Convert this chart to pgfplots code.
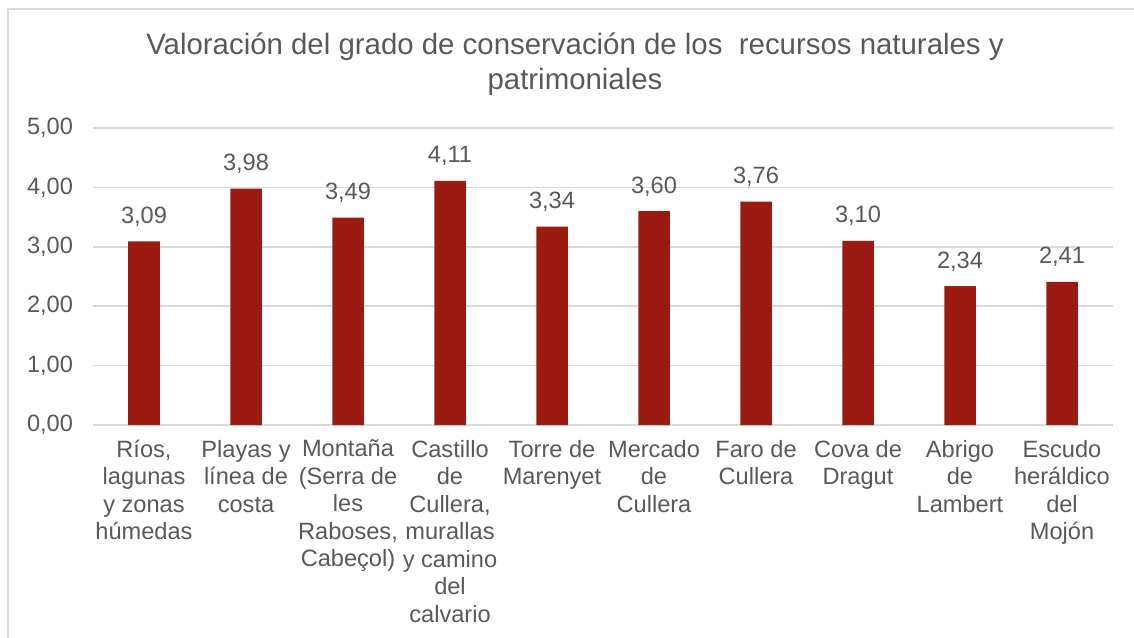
\documentclass[border=0pt]{standalone}
\usepackage{fontspec}
\setmainfont{Liberation Sans}
\usepackage{pgfplots}
\pgfplotsset{compat=1.18}

\definecolor{barred}{HTML}{9B1B12}
\definecolor{txtgrey}{HTML}{595959}
\definecolor{gridgrey}{HTML}{D9D9D9}

\begin{document}
\begin{tikzpicture}
    \useasboundingbox (-46.5pt,-106pt) rectangle (520.5pt,212.5pt);
    % chart frame (cut at right and bottom)
    \draw[gridgrey, line width=0.75pt] (-42.5pt,-110pt) -- (-42.5pt,208pt) -- (530pt,208pt);

    \begin{axis}[
        at={(0,0)}, anchor=south west,
        scale only axis,
        width=510pt,
        height=148.5pt,
        ybar,
        bar width=15.75pt,
        xmin=-0.5, xmax=9.5,
        ymin=0, ymax=5,
        ytick={0,1,2,3,4,5},
        xtick=data,
        xticklabels={
            {Ríos,\\lagunas\\y zonas\\húmedas},
            {Playas y\\línea de\\costa},
            {Montaña\\(Serra de\\les\\Raboses,\\Cabeçol)},
            {Castillo\\de\\Cullera,\\murallas\\y camino\\del\\calvario},
            {Torre de\\Marenyet},
            {Mercado\\de\\Cullera},
            {Faro de\\Cullera},
            {Cova de\\Dragut},
            {Abrigo\\de\\Lambert},
            {Escudo\\heráldico\\del\\Mojón}
        },
        axis line style={draw=none},
        tick style={draw=none},
        ymajorgrids,
        major grid style={gridgrey, line width=0.75pt},
        /pgf/number format/assume math mode=true,
        yticklabel style={
            font=\fontsize{11.8}{13.75}\selectfont, color=txtgrey,
            xshift=-6.5pt,
            /pgf/number format/.cd, fixed, fixed zerofill, precision=2, use comma
        },
        xticklabel style={
            font=\fontsize{11.8}{13.75}\selectfont, color=txtgrey,
            align=center, anchor=north, inner sep=0pt, yshift=-3pt,
            execute at begin node={\rule{0pt}{10pt}}
        },
        nodes near coords={\pgfmathprintnumber[fixed,fixed zerofill,precision=2,use comma]{\pgfplotspointmeta}},
        nodes near coords style={
            font=\fontsize{11.8}{13.75}\selectfont, color=txtgrey,
            anchor=base, yshift=9pt
        },
    ]
    \addplot[fill=barred, draw=none] coordinates {
        (0, 3.09)
        (1, 3.98)
        (2, 3.49)
        (3, 4.11)
        (4, 3.34)
        (5, 3.60)
        (6, 3.76)
        (7, 3.10)
        (8, 2.34)
        (9, 2.41)
    };
    \end{axis}

    % title, two lines
    \node[anchor=base, color=txtgrey, font=\fontsize{14.7}{17}\selectfont] at (241pt,185pt)
        {Valoración del grado de conservación de los\ \ recursos naturales y};
    \node[anchor=base, color=txtgrey, font=\fontsize{14.7}{17}\selectfont] at (241pt,167.5pt)
        {patrimoniales};
\end{tikzpicture}
\end{document}
